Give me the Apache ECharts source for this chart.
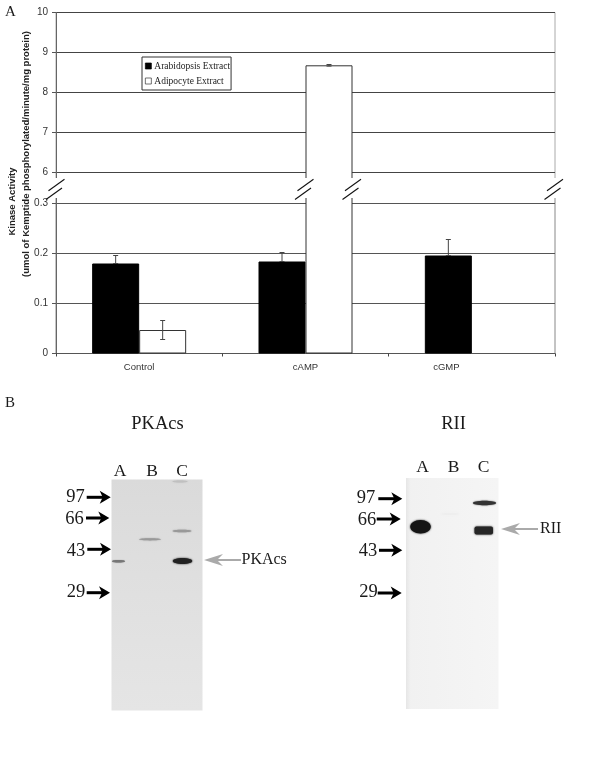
<!DOCTYPE html>
<html>
<head>
<meta charset="utf-8">
<style>html,body{margin:0;padding:0;background:#fff}#main{width:600px;height:777px}</style>
<script src="https://cdn.jsdelivr.net/npm/echarts@6/dist/echarts.min.js"></script>
</head>
<body>
<div id="main"></div>
<script>
var categories = ['Control', 'cAMP', 'cGMP'];
var arabidopsisValues = [0.18, 0.184, 0.196];
var arabidopsisErrors = [0.016, 0.018, 0.032];
var adipocyteValues = [0.047, 8.68, null];
var adipocyteErrors = [0.019, 0.02, null];
var upperTicks = [6, 7, 8, 9, 10];
var lowerTicks = [0, 0.1, 0.2, 0.3];
var markerLabels = ['97', '66', '43', '29'];
var laneLabels = ['A', 'B', 'C'];

var SERIF = '"Liberation Serif", serif';
var SANS = '"Liberation Sans", Arial, sans-serif';
var BAR_W = 47;

var mychart = echarts.init(document.getElementById('main'));

function errorData(values, errors, upOnly) {
    var out = [];
    values.forEach(function (v, i) {
        if (v == null) return;
        out.push([i, upOnly ? v : v - errors[i], v + errors[i]]);
    });
    return out;
}

function errorSeries(data, offset, gridIdx) {
    return {
        type: 'custom',
        xAxisIndex: gridIdx,
        yAxisIndex: gridIdx,
        clip: true,
        silent: true,
        encode: {x: 0, y: [1, 2]},
        data: data,
        z: 5,
        renderItem: function (params, api) {
            var cat = api.value(0);
            var lo = api.coord([cat, api.value(1)]);
            var hi = api.coord([cat, api.value(2)]);
            var x = lo[0] + offset;
            var st = {stroke: '#444', lineWidth: 1};
            return {
                type: 'group',
                children: [
                    {type: 'line', shape: {x1: x, y1: lo[1], x2: x, y2: hi[1]}, style: st},
                    {type: 'line', shape: {x1: x - 2.5, y1: hi[1], x2: x + 2.5, y2: hi[1]}, style: st},
                    {type: 'line', shape: {x1: x - 2.5, y1: lo[1], x2: x + 2.5, y2: lo[1]}, style: st}
                ]
            };
        }
    };
}

function barSeries(name, values, color, gridIdx) {
    return {
        name: name,
        type: 'bar',
        xAxisIndex: gridIdx,
        yAxisIndex: gridIdx,
        data: values,
        barWidth: BAR_W,
        barGap: 0,
        silent: true,
        itemStyle: {color: color, borderColor: color === '#fff' ? '#333' : '#000', borderWidth: 1}
    };
}

// helpers for the drawn parts: break marks, blots, arrows, labels
function label(text, x, y, size, extra) {
    return {
        type: 'text', z: 20, x: x, y: y, rotation: extra && extra.rotation || 0,
        style: {
            text: text, fill: extra && extra.color || '#1a1a1a',
            font: (extra && extra.weight || '') + ' ' + size + 'px ' + (extra && extra.family || SERIF),
            textAlign: extra && extra.align || 'center', textVerticalAlign: 'middle'
        }
    };
}

function slash(x) {
    return [
        {type: 'line', z: 30, shape: {x1: x - 8, y1: 190.7, x2: x + 8, y2: 179.3}, style: {stroke: '#111', lineWidth: 1.1}},
        {type: 'line', z: 30, shape: {x1: x - 10.5, y1: 199.5, x2: x + 5.5, y2: 188}, style: {stroke: '#111', lineWidth: 1.1}}
    ];
}

function band(cx, cy, w, h, color, blur) {
    return {
        type: 'ellipse', z: 12,
        shape: {cx: cx, cy: cy, rx: w / 2, ry: h / 2},
        style: {fill: color, shadowBlur: blur, shadowColor: color}
    };
}

function blackArrow(x1, x2, y) {
    return [
        {type: 'line', z: 15, shape: {x1: x1, y1: y, x2: x2 - 7, y2: y}, style: {stroke: '#000', lineWidth: 3}},
        {type: 'polygon', z: 15, shape: {points: [[x2, y], [x2 - 11, y - 6.5], [x2 - 8, y], [x2 - 11, y + 6.5]]}, style: {fill: '#000'}}
    ];
}

function greyArrow(tip, tail, y) {
    return [
        {type: 'line', z: 15, shape: {x1: tip + 10, y1: y, x2: tail, y2: y}, style: {stroke: '#aaa', lineWidth: 2}},
        {type: 'polygon', z: 15, shape: {points: [[tip, y], [tip + 19, y - 6], [tip + 13, y], [tip + 19, y + 6]]}, style: {fill: '#aaa'}}
    ];
}

var graphics = [
    // white strip that cuts the plot between the two scales
    {type: 'rect', z: 10, shape: {x: 48, y: 178, width: 516, height: 20}, style: {fill: '#fff'}},
    label('A', 10.5, 12.5, 15),
    label('B', 10, 403, 15),
    label('Kinase Activity', 12.5, 201.5, 9.5, {family: SANS, weight: 'bold', rotation: Math.PI / 2, color: '#222'}),
    label('(umol of Kemptide phosphorylated/minute/mg protein)', 26.5, 154, 9.5, {family: SANS, weight: 'bold', rotation: Math.PI / 2, color: '#222'}),
    label('PKAcs', 157.5, 424, 18.5),
    label('RII', 453.5, 424, 18.5),
    // left blot
    {
        type: 'rect', z: 11, shape: {x: 111.5, y: 479.5, width: 91, height: 231},
        style: {fill: new echarts.graphic.LinearGradient(0, 0, 0, 1, [
            {offset: 0, color: '#dadada'}, {offset: 0.5, color: '#e0e0e0'}, {offset: 1, color: '#e5e5e5'}])}
    },
    band(118.5, 561.3, 13, 2.5, '#777', 1),
    band(150, 539.3, 22, 2.2, '#999', 1.5),
    band(182, 531, 19, 2.5, '#999', 1.5),
    band(182.5, 561, 19.5, 6, '#222', 2),
    band(180, 481.5, 15, 2, '#c0c0c0', 1.5),
    // right blot
    {
        type: 'rect', z: 11, shape: {x: 406, y: 478, width: 92.5, height: 231},
        style: {fill: new echarts.graphic.LinearGradient(0, 0, 1, 0, [
            {offset: 0, color: '#e6e6e6'}, {offset: 0.05, color: '#f1f1f1'}, {offset: 1, color: '#f5f5f5'}])}
    },
    band(420.5, 526.8, 20.5, 13.5, '#151515', 2),
    band(484.5, 503, 23, 4.5, '#333', 1.5),
    {type: 'rect', z: 12, shape: {x: 474.5, y: 526.5, width: 18.5, height: 8, r: 2}, style: {fill: '#262626', shadowBlur: 2, shadowColor: '#262626'}},
    band(450, 514, 18, 1, '#ececec', 1.5),
    label('PKAcs', 241.5, 560, 16, {align: 'left'}),
    label('RII', 540, 529, 16, {align: 'left'})
];

[56.5, 305.5, 353, 555].forEach(function (x) {
    graphics = graphics.concat(slash(x));
});

var leftMarkers = [[75.5, 497, 86.7, 110.7, 497.3], [74.5, 519.3, 86, 109.3, 518], [76, 550.7, 87.3, 111, 549.3], [76, 592, 86.7, 110, 592.7]];
var rightMarkers = [[366, 498, 378.3, 402.3, 498.7], [367, 520, 376.7, 400.7, 519], [368, 551.3, 379, 402.3, 550.3], [368.5, 592.3, 377.7, 401.7, 593]];
[leftMarkers, rightMarkers].forEach(function (rows) {
    rows.forEach(function (r, i) {
        graphics.push(label(markerLabels[i], r[0], r[1], 18.5));
        graphics = graphics.concat(blackArrow(r[2], r[3], r[4]));
    });
});
[120, 152, 182].forEach(function (x, i) {
    graphics.push(label(laneLabels[i], x, 471, 17.5));
});
[422.5, 453.7, 483.7].forEach(function (x, i) {
    graphics.push(label(laneLabels[i], x, 467.5, 17.5));
});
graphics = graphics.concat(greyArrow(204, 241, 560), greyArrow(501, 538, 529));

var option = {
    animation: false,
    backgroundColor: '#fff',
    legend: {
        data: ['Arabidopsis Extract', 'Adipocyte Extract'],
        orient: 'vertical',
        left: 142,
        top: 57,
        padding: [4, 1, 4, 3],
        itemWidth: 6,
        itemHeight: 6,
        itemGap: 5,
        icon: 'rect',
        selectedMode: false,
        backgroundColor: '#fff',
        borderColor: '#333',
        borderWidth: 1,
        borderRadius: 0,
        itemStyle: {borderWidth: 0.7},
        textStyle: {fontFamily: SERIF, fontSize: 9.5, color: '#222', padding: [0, 0, 0, -2]}
    },
    grid: [
        {left: 56, right: 45, top: 12.5, height: 167.5, show: true, borderColor: '#aaa', borderWidth: 1, backgroundColor: 'transparent'},
        {left: 56, right: 45, top: 196, height: 157.5, show: true, borderColor: '#888', borderWidth: 1, backgroundColor: 'transparent'}
    ],
    xAxis: [
        {type: 'category', gridIndex: 0, data: categories, show: false},
        {
            type: 'category',
            gridIndex: 1,
            data: categories,
            axisLine: {lineStyle: {color: '#555', width: 1}},
            axisTick: {show: true, length: 3, alignWithLabel: false, lineStyle: {color: '#444'}},
            axisLabel: {
                fontFamily: SANS,
                fontSize: 9.5,
                color: '#333',
                margin: 9,
                formatter: function (v) {
                    return v === 'cGMP' ? '{off|' + v + '}' : v;
                },
                // cGMP sits under its own bar in the original, not the middle of the band
                rich: {off: {fontFamily: SANS, fontSize: 9.5, color: '#333', padding: [0, 51, 2, 0]}}
            }
        }
    ],
    yAxis: [
        {
            type: 'value',
            gridIndex: 0,
            min: 5.8125,
            max: 10,
            axisLine: {show: true, lineStyle: {color: '#666'}},
            axisTick: {show: true, length: 4, customValues: upperTicks, lineStyle: {color: '#555'}},
            axisLabel: {customValues: upperTicks, fontFamily: SANS, fontSize: 10, color: '#333', margin: 8},
            splitLine: {show: true, customValues: upperTicks.slice(0, 4), lineStyle: {color: '#444', width: 1}}
        },
        {
            type: 'value',
            gridIndex: 1,
            min: 0,
            max: 0.315,
            axisLine: {show: true, lineStyle: {color: '#666'}},
            axisTick: {show: true, length: 4, customValues: lowerTicks, lineStyle: {color: '#555'}},
            axisLabel: {customValues: lowerTicks, fontFamily: SANS, fontSize: 10, color: '#333', margin: 8},
            splitLine: {show: true, customValues: lowerTicks, lineStyle: {color: '#555', width: 1}}
        }
    ],
    series: [
        barSeries('Arabidopsis Extract', arabidopsisValues, '#000', 1),
        barSeries('Adipocyte Extract', adipocyteValues, '#fff', 1),
        barSeries('Arabidopsis Extract', arabidopsisValues, '#000', 0),
        barSeries('Adipocyte Extract', adipocyteValues, '#fff', 0),
        errorSeries(errorData(arabidopsisValues, arabidopsisErrors, true), -BAR_W / 2, 1),
        errorSeries(errorData(adipocyteValues, adipocyteErrors, false), BAR_W / 2, 1),
        errorSeries(errorData(adipocyteValues, adipocyteErrors, false), BAR_W / 2, 0)
    ],
    graphic: {elements: graphics}
};

mychart.setOption(option);
</script>
</body>
</html>
